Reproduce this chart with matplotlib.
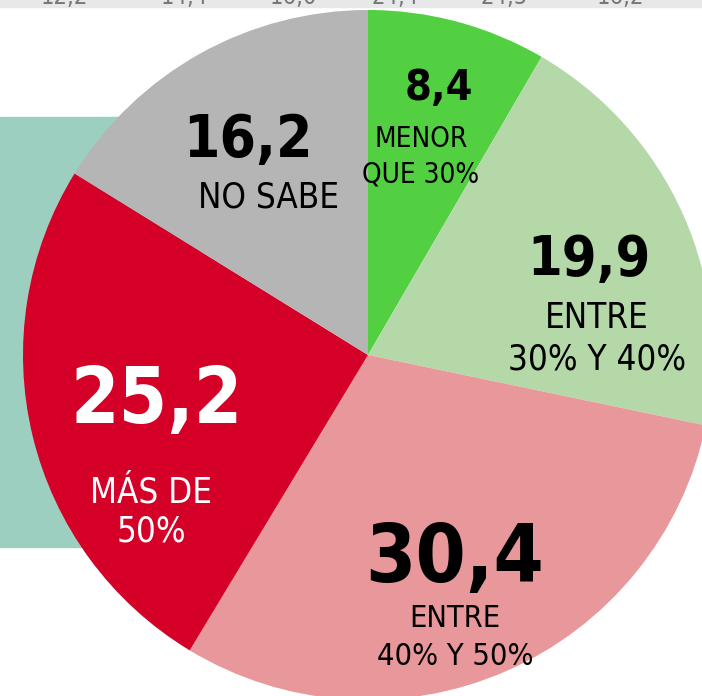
import matplotlib.pyplot as plt
from matplotlib.patches import Rectangle

### Data ###
values = [8.4, 19.9, 30.4, 25.2, 16.2]
value_labels = ['8,4', '19,9', '30,4', '25,2', '16,2']
categories = ['MENOR\nQUE 30%', 'ENTRE\n30% Y 40%', 'ENTRE\n40% Y 50%', 'MÁS DE\n50%', 'NO SABE']
colors = ['#52d042', '#b4d8a8', '#e8979a', '#d50027', '#b5b5b5']
text_colors = ['black', 'black', 'black', 'white', 'black']
# cut-off row of numbers at the very top of the picture
top_values = ['12,2', '14,4', '16,0', '24,4', '24,5', '16,2']

### Layout (pixel positions, y measured from the top, text at baseline) ###
W, H = 702, 696
CX, CY, R = 368, 355, 345
num_pos = [(439, 100), (589, 275), (455, 582), (157, 423), (248, 157)]
num_size = [31, 40, 58, 56, 42]
# baseline of the last line of each category label
cat_pos = [(421, 182), (597, 370), (455, 665), (151, 542), (269, 208)]
cat_size = [20, 25, 22, 25, 25]
cat_spacing = [1.33, 1.3, 1.37, 1.21, 1.2]
top_x = [64, 184, 293, 395, 504, 620]

FONT = ['DejaVu Sans']
STRETCH = 'condensed'

def py(y):
    return H - y

fig = plt.figure(figsize=(W / 100, H / 100), dpi=100)
ax = fig.add_axes([0, 0, 1, 1])

# teal panel behind the pie and the grey strip at the top
ax.add_patch(Rectangle((0, py(547)), 200, 547 - 117, color='#9dcfc0', zorder=0))
ax.add_patch(Rectangle((0, py(7)), W, 7, color='#e7e8ea', zorder=0))
for x, t in zip(top_x, top_values):
    ax.text(x, py(4), t, ha='center', va='baseline', fontsize=17,
            color='#777777', family=FONT, stretch=STRETCH, zorder=1)

ax.pie(values, colors=colors, startangle=90, counterclock=False,
       center=(CX, py(CY)), radius=R, frame=True,
       wedgeprops=dict(linewidth=0, zorder=2))
ax.set_xlim(0, W)
ax.set_ylim(0, H)
ax.set_aspect('equal')
ax.axis('off')

for i in range(len(values)):
    x, y = num_pos[i]
    ax.text(x, py(y), value_labels[i], ha='center', va='baseline',
            fontsize=num_size[i], fontweight='bold', color=text_colors[i],
            family=FONT, stretch=STRETCH, zorder=3)
    x, y = cat_pos[i]
    ax.text(x, py(y), categories[i], ha='center', va='baseline',
            multialignment='center', fontsize=cat_size[i],
            color=text_colors[i], family=FONT, stretch=STRETCH,
            linespacing=cat_spacing[i], zorder=3)

fig.savefig('out.png', dpi=100)
